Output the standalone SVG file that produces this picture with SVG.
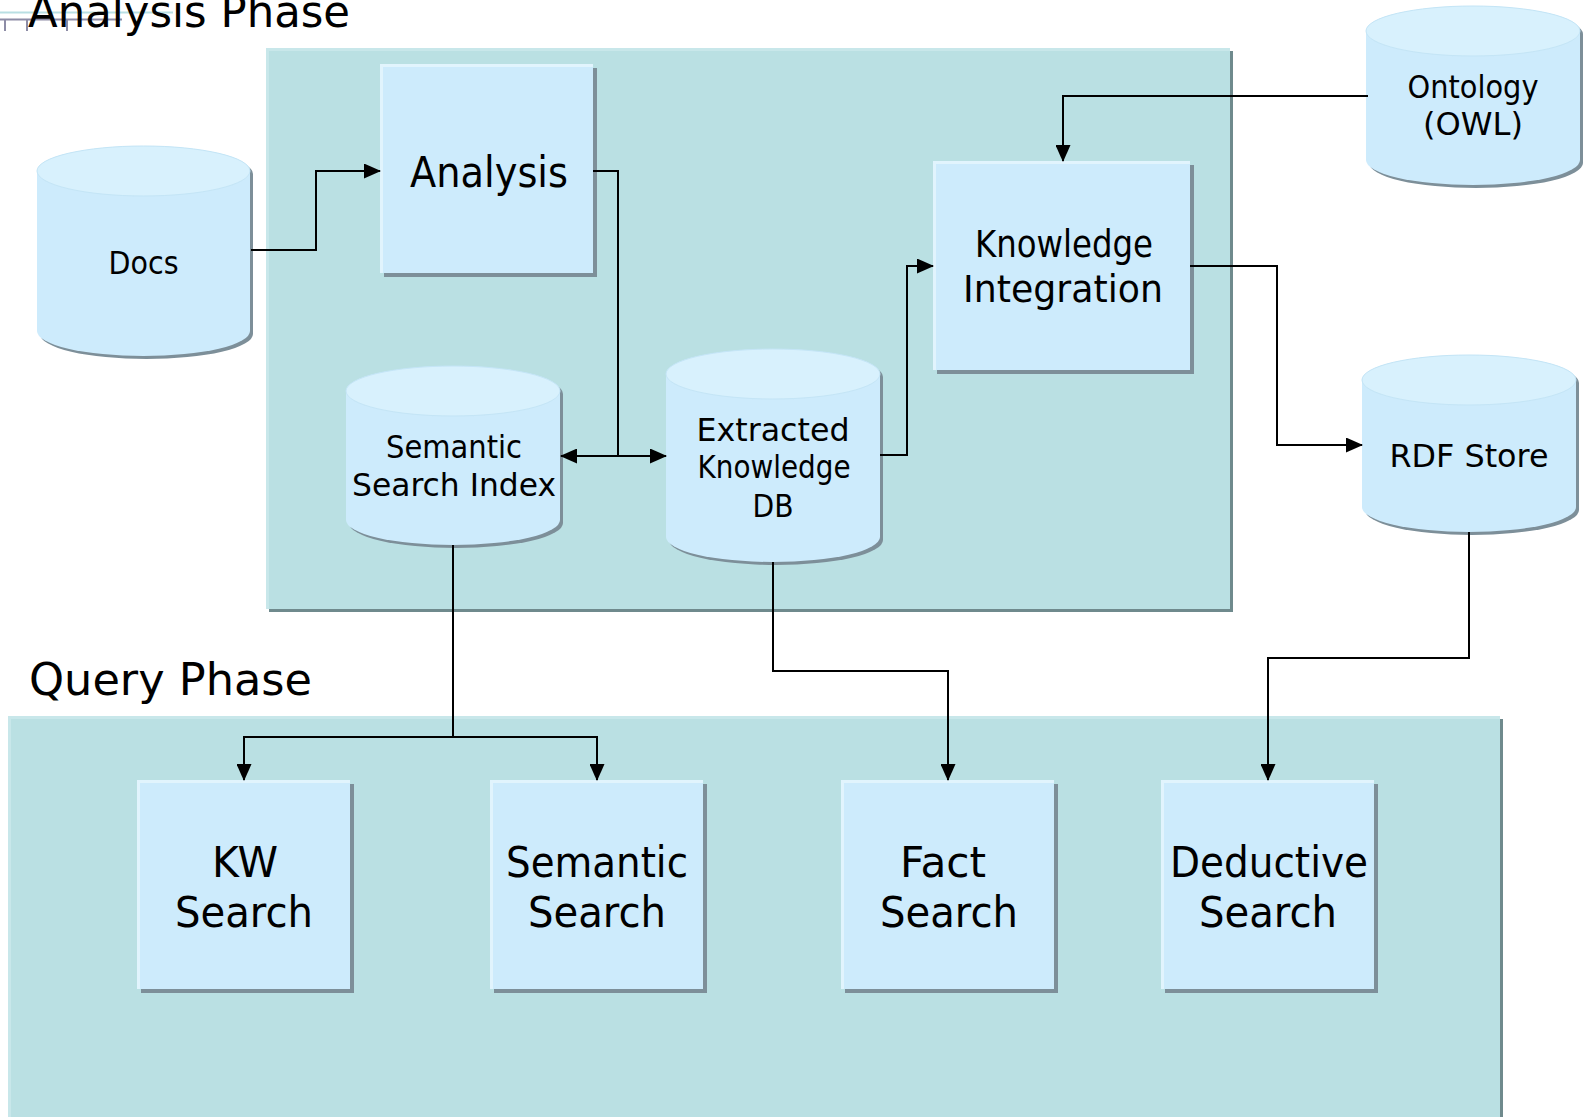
<svg xmlns="http://www.w3.org/2000/svg" width="1587" height="1117" viewBox="0 0 1587 1117">
  <defs>
    <marker id="arrow" markerUnits="userSpaceOnUse" markerWidth="17" markerHeight="15" refX="16" refY="7.5" orient="auto">
      <path d="M0,0 L17,7.5 L0,15 Z" fill="#000"/>
    </marker>
  </defs>
  <style>
    .panel{fill:#bae0e3}
    .panel-shadow{fill:#6f8a8d}
    .panel-hl{fill:none;stroke:#c8e7ea;stroke-width:3}
    .box{fill:#cdebfc}
    .shadow{fill:#7d8f99}
    .hl{fill:none;stroke:#e1f4fd;stroke-width:3}
    .cyl{fill:#cdebfc}
    .cyl-top{fill:#d8f1fd;stroke:#c4e5f6;stroke-width:1}
    .lbl{font-family:"Comic Sans MS","DejaVu Sans",sans-serif;fill:#000;text-anchor:middle}
    .title{font-family:"Comic Sans MS","DejaVu Sans",sans-serif;fill:#000;font-size:44px}
    .big{font-size:43px}
    .mid{font-size:37px}
    .small{font-size:32px}
    .conn{fill:none;stroke:#000;stroke-width:2}
    .rule{stroke-width:2;fill:none}
  </style>

  <!-- leftover ruler strokes in the corner -->
  <g id="corner-rules">
    <line class="rule" x1="0" y1="12.5" x2="173" y2="12.5" stroke="#b9dfe3"/>
    <line class="rule" x1="0" y1="19.5" x2="122" y2="19.5" stroke="#8d8ca6"/>
    <line class="rule" x1="5" y1="19" x2="5" y2="31" stroke="#8d8ca6"/>
    <line class="rule" x1="27" y1="19" x2="27" y2="31" stroke="#8d8ca6"/>
    <line class="rule" x1="67" y1="19" x2="67" y2="31" stroke="#8d8ca6"/>
  </g>

  <!-- phase panels -->
  <g id="analysis-phase">
    <rect class="panel-shadow" x="269" y="51" width="964" height="561"/>
    <rect class="panel" x="266" y="48" width="964" height="561"/>
    <polyline class="panel-hl" points="267.5,609 267.5,49.5 1230,49.5"/>
    <text class="title" x="28" y="27" textLength="322" lengthAdjust="spacingAndGlyphs">Analysis Phase</text>
  </g>
  <g id="query-phase">
    <rect class="panel-shadow" x="11" y="719" width="1492" height="420"/>
    <rect class="panel" x="8" y="716" width="1492" height="420"/>
    <polyline class="panel-hl" points="9.5,1117 9.5,717.5 1500,717.5"/>
    <text class="title" x="29" y="695" textLength="283" lengthAdjust="spacingAndGlyphs">Query Phase</text>
  </g>

  <!-- data stores -->
  <g id="docs">
    <path class="shadow" d="M40,174 A106.5,25 0 0 1 253,174 L253,334 A106.5,25 0 0 1 40,334 Z"/>
    <path class="cyl" d="M37,171 A106.5,25 0 0 1 250,171 L250,331 A106.5,25 0 0 1 37,331 Z"/>
    <ellipse class="cyl-top" cx="143.5" cy="171" rx="106.5" ry="25"/>
    <text class="lbl small" x="143.5" y="274" textLength="70" lengthAdjust="spacingAndGlyphs">Docs</text>
  </g>

  <g id="semantic-search-index">
    <path class="shadow" d="M349,394 A107,25 0 0 1 563,394 L563,523 A107,25 0 0 1 349,523 Z"/>
    <path class="cyl" d="M346,391 A107,25 0 0 1 560,391 L560,520 A107,25 0 0 1 346,520 Z"/>
    <ellipse class="cyl-top" cx="453" cy="391" rx="107" ry="25"/>
    <text class="lbl small" x="454" y="458" textLength="136" lengthAdjust="spacingAndGlyphs">Semantic</text>
    <text class="lbl small" x="454" y="496" textLength="204" lengthAdjust="spacingAndGlyphs">Search Index</text>
  </g>

  <g id="extracted-knowledge-db">
    <path class="shadow" d="M669,377 A107,25 0 0 1 883,377 L883,540 A107,25 0 0 1 669,540 Z"/>
    <path class="cyl" d="M666,374 A107,25 0 0 1 880,374 L880,537 A107,25 0 0 1 666,537 Z"/>
    <ellipse class="cyl-top" cx="773" cy="374" rx="107" ry="25"/>
    <text class="lbl small" x="773" y="441" textLength="153" lengthAdjust="spacingAndGlyphs">Extracted</text>
    <text class="lbl small" x="774" y="478" textLength="153" lengthAdjust="spacingAndGlyphs">Knowledge</text>
    <text class="lbl small" x="773" y="517" textLength="41" lengthAdjust="spacingAndGlyphs">DB</text>
  </g>

  <g id="ontology">
    <path class="shadow" d="M1369,34 A107,25 0 0 1 1583,34 L1583,163 A107,25 0 0 1 1369,163 Z"/>
    <path class="cyl" d="M1366,31 A107,25 0 0 1 1580,31 L1580,160 A107,25 0 0 1 1366,160 Z"/>
    <ellipse class="cyl-top" cx="1473" cy="31" rx="107" ry="25"/>
    <text class="lbl small" x="1473" y="98" textLength="131" lengthAdjust="spacingAndGlyphs">Ontology</text>
    <text class="lbl small" x="1473" y="135" textLength="100" lengthAdjust="spacingAndGlyphs">(OWL)</text>
  </g>

  <g id="rdf-store">
    <path class="shadow" d="M1365,383 A107,25 0 0 1 1579,383 L1579,510 A107,25 0 0 1 1365,510 Z"/>
    <path class="cyl" d="M1362,380 A107,25 0 0 1 1576,380 L1576,507 A107,25 0 0 1 1362,507 Z"/>
    <ellipse class="cyl-top" cx="1469" cy="380" rx="107" ry="25"/>
    <text class="lbl small" x="1469" y="467" textLength="159" lengthAdjust="spacingAndGlyphs">RDF Store</text>
  </g>

  <!-- process boxes -->
  <g id="analysis">
    <rect class="shadow" x="384" y="68" width="213" height="209"/>
    <rect class="box" x="380" y="64" width="213" height="209"/>
    <polyline class="hl" points="381.5,273 381.5,65.5 593,65.5"/>
    <text class="lbl big" x="489" y="187" textLength="158" lengthAdjust="spacingAndGlyphs">Analysis</text>
  </g>

  <g id="knowledge-integration">
    <rect class="shadow" x="937" y="165" width="257" height="209"/>
    <rect class="box" x="933" y="161" width="257" height="209"/>
    <polyline class="hl" points="934.5,370 934.5,162.5 1190,162.5"/>
    <text class="lbl mid" x="1064" y="257" textLength="178" lengthAdjust="spacingAndGlyphs">Knowledge</text>
    <text class="lbl mid" x="1063" y="302" textLength="200" lengthAdjust="spacingAndGlyphs">Integration</text>
  </g>

  <g id="kw-search">
    <rect class="shadow" x="141" y="784" width="213" height="209"/>
    <rect class="box" x="137" y="780" width="213" height="209"/>
    <polyline class="hl" points="138.5,989 138.5,781.5 350,781.5"/>
    <text class="lbl big" x="245" y="877" textLength="66" lengthAdjust="spacingAndGlyphs">KW</text>
    <text class="lbl big" x="244" y="927" textLength="138" lengthAdjust="spacingAndGlyphs">Search</text>
  </g>

  <g id="semantic-search">
    <rect class="shadow" x="494" y="784" width="213" height="209"/>
    <rect class="box" x="490" y="780" width="213" height="209"/>
    <polyline class="hl" points="491.5,989 491.5,781.5 703,781.5"/>
    <text class="lbl big" x="597" y="877" textLength="182" lengthAdjust="spacingAndGlyphs">Semantic</text>
    <text class="lbl big" x="597" y="927" textLength="138" lengthAdjust="spacingAndGlyphs">Search</text>
  </g>

  <g id="fact-search">
    <rect class="shadow" x="845" y="784" width="213" height="209"/>
    <rect class="box" x="841" y="780" width="213" height="209"/>
    <polyline class="hl" points="842.5,989 842.5,781.5 1054,781.5"/>
    <text class="lbl big" x="943" y="877" textLength="86" lengthAdjust="spacingAndGlyphs">Fact</text>
    <text class="lbl big" x="949" y="927" textLength="138" lengthAdjust="spacingAndGlyphs">Search</text>
  </g>

  <g id="deductive-search">
    <rect class="shadow" x="1165" y="784" width="213" height="209"/>
    <rect class="box" x="1161" y="780" width="213" height="209"/>
    <polyline class="hl" points="1162.5,989 1162.5,781.5 1374,781.5"/>
    <text class="lbl big" x="1269" y="877" textLength="198" lengthAdjust="spacingAndGlyphs">Deductive</text>
    <text class="lbl big" x="1268" y="927" textLength="138" lengthAdjust="spacingAndGlyphs">Search</text>
  </g>

  <!-- connectors -->
  <g id="connectors">
    <path class="conn" d="M251,250 H316 V171 H380" marker-end="url(#arrow)"/>
    <path class="conn" d="M593,171 H618 V456"/>
    <path class="conn" d="M618,456 H561" marker-end="url(#arrow)"/>
    <path class="conn" d="M618,456 H666" marker-end="url(#arrow)"/>
    <path class="conn" d="M880,455 H907 V266 H933" marker-end="url(#arrow)"/>
    <path class="conn" d="M1368,96 H1063 V161" marker-end="url(#arrow)"/>
    <path class="conn" d="M1190,266 H1277 V445 H1362" marker-end="url(#arrow)"/>
    <path class="conn" d="M453,545 V737"/>
    <path class="conn" d="M453,737 H244 V780" marker-end="url(#arrow)"/>
    <path class="conn" d="M453,737 H597 V780" marker-end="url(#arrow)"/>
    <path class="conn" d="M773,562 V671 H948 V780" marker-end="url(#arrow)"/>
    <path class="conn" d="M1469,532 V658 H1268 V780" marker-end="url(#arrow)"/>
  </g>
</svg>
